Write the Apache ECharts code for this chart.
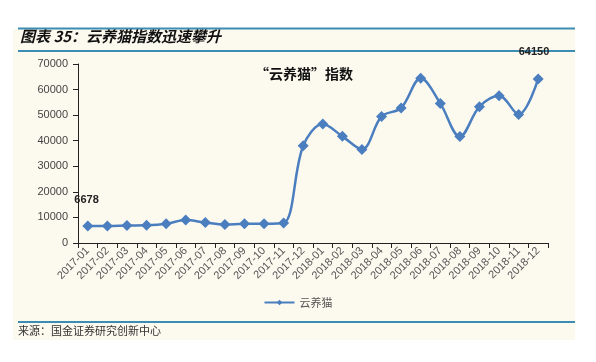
<!DOCTYPE html>
<html>
<head>
<meta charset="utf-8">
<style>
  html, body { margin: 0; padding: 0; background: #ffffff; }
  #chart { width: 596px; height: 362px; }
</style>
<script src="https://cdn.jsdelivr.net/npm/echarts@6/dist/echarts.min.js"></script>
</head>
<body>
<div id="chart"></div>
<script>
// Monthly "云养猫" index, 2017-01 to 2018-12
const months = [
  '2017-01', '2017-02', '2017-03', '2017-04', '2017-05', '2017-06',
  '2017-07', '2017-08', '2017-09', '2017-10', '2017-11', '2017-12',
  '2018-01', '2018-02', '2018-03', '2018-04', '2018-05', '2018-06',
  '2018-07', '2018-08', '2018-09', '2018-10', '2018-11', '2018-12'
];
const catIndex = [
  6678, 6600, 6800, 6900, 7500, 9000,
  8000, 7200, 7500, 7500, 7800, 38000,
  46500, 41700, 36600, 49500, 52800, 64400,
  54600, 41600, 53300, 57600, 50300, 64150
];
const yTicks = [0, 10000, 20000, 30000, 40000, 50000, 60000, 70000];
const seriesName = '云养猫';
const figureTitle = '图表 35：云养猫指数迅速攀升';
const chartTitle = '“云养猫”指数';
const sourceNote = '来源：国金证券研究创新中心';

const CJK = '"Noto Sans CJK SC", "Noto Sans", sans-serif';
const LATIN = 'Arial, "Liberation Sans", "Noto Sans", sans-serif';
const blue = '#4a7ebf';
const rule = '#3c8db3';

// only the first and last points carry a value label
const points = catIndex.map((v, i) => {
  const p = { value: v };
  if (i === 0) {
    p.label = { show: true, position: [-8, -26] };
  } else if (i === catIndex.length - 1) {
    p.label = { show: true, position: [-14, -27] };
  }
  return p;
});

const chart = echarts.init(document.getElementById('chart'), null, { renderer: 'canvas' });
chart.setOption({
  animation: false,
  backgroundColor: '#ffffff',
  graphic: [
    { type: 'rect', z: -10, shape: { x: 13, y: 29, width: 562, height: 311 },
      style: { fill: '#fcf9ef' } },
    { type: 'line', shape: { x1: 18, y1: 28.5, x2: 575, y2: 28.5 },
      style: { stroke: rule, lineWidth: 2 } },
    { type: 'line', shape: { x1: 18, y1: 51, x2: 575, y2: 51 },
      style: { stroke: rule, lineWidth: 2 } },
    { type: 'line', shape: { x1: 18, y1: 322, x2: 575, y2: 322 },
      style: { stroke: rule, lineWidth: 2 } },
    { type: 'text', left: 20, top: 29,
      style: { text: figureTitle, fill: '#111111',
        font: 'italic bold 15px ' + CJK } },
    { type: 'text', left: 18, top: 325,
      style: { text: sourceNote, fill: '#333333',
        font: '11px ' + CJK } }
  ],
  title: {
    text: chartTitle,
    left: 250,
    top: 62,
    textStyle: { fontFamily: CJK, fontWeight: 'bold', fontSize: 14, color: '#111111' }
  },
  legend: {
    data: [seriesName],
    left: 'center',
    top: 292,
    itemWidth: 30,
    itemHeight: 7,
    itemGap: 6,
    textStyle: { fontFamily: CJK, fontSize: 11, color: '#555555' }
  },
  grid: { left: 78, right: 48, top: 64, bottom: 119, containLabel: false },
  xAxis: {
    type: 'category',
    data: months,
    boundaryGap: true,
    axisLine: { lineStyle: { color: '#222222', width: 1 } },
    axisTick: { show: true, alignWithLabel: false, length: 5, lineStyle: { color: '#222222' } },
    axisLabel: { rotate: 45, interval: 0, fontFamily: LATIN, fontSize: 11, color: '#555555', margin: 6 }
  },
  yAxis: {
    type: 'value',
    min: yTicks[0],
    max: yTicks[yTicks.length - 1],
    interval: 10000,
    axisLine: { show: true, lineStyle: { color: '#222222', width: 1 } },
    axisTick: { show: true, inside: false, length: 5, lineStyle: { color: '#222222' } },
    splitLine: { show: false },
    axisLabel: { fontFamily: LATIN, fontSize: 11, color: '#444444', margin: 10,
      formatter: (v) => String(v) }
  },
  series: [{
    name: seriesName,
    type: 'line',
    data: points,
    smooth: 0.35,
    symbol: 'diamond',
    symbolSize: 11,
    itemStyle: { color: blue },
    lineStyle: { color: blue, width: 2.5 },
    label: { show: false, fontFamily: LATIN, fontWeight: 'bold', fontSize: 11, color: '#222222' }
  }]
});
</script>
</body>
</html>
